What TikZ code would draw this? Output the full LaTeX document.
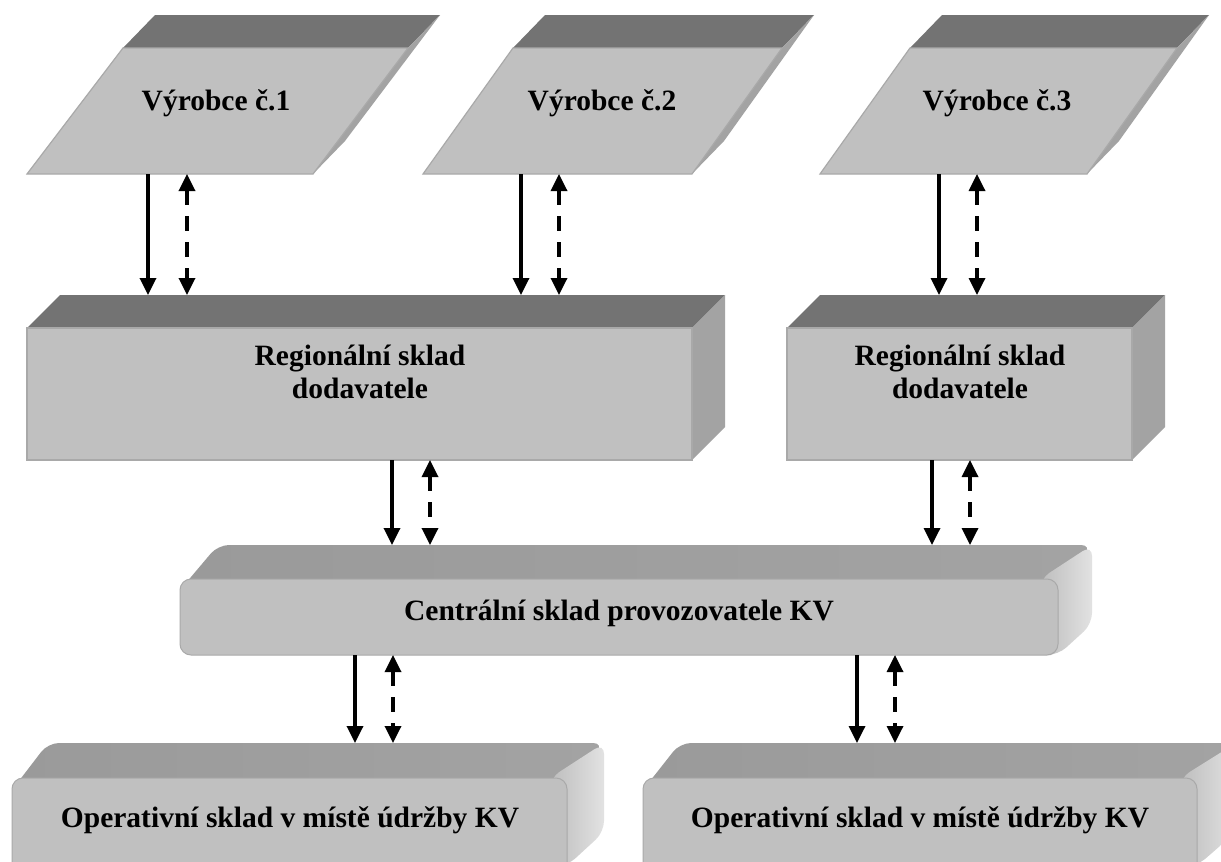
\documentclass[tikz,border=0pt]{standalone}
\usepackage{fontspec}
\setmainfont{Liberation Serif}
\usetikzlibrary{arrows.meta}

\definecolor{facefront}{HTML}{C0C0C0}
\definecolor{facetop}{HTML}{737373}
\definecolor{faceside}{HTML}{A3A3A3}
\definecolor{edgegray}{HTML}{A9A9A9}
\definecolor{softtop}{HTML}{9A9A9A}
\definecolor{softtoplight}{HTML}{B8B8B8}
\definecolor{softsidedark}{HTML}{BDBDBD}
\definecolor{softsidelight}{HTML}{E2E2E2}

\tikzset{
  frontface/.style={fill=facefront, draw=edgegray, line width=1.2pt},
  topface/.style={fill=facetop},
  sideface/.style={fill=faceside},
  softfront/.style={fill=facefront, draw=edgegray, line width=1pt, rounded corners=11pt},
  softtopface/.style={left color=softtop, right color=softtop!70!softtoplight, rounded corners=11pt},
  softsideface/.style={left color=softsidedark, right color=softsidelight, rounded corners=11pt},
  boxlabel/.style={font=\bfseries\fontsize{29.5}{33}\selectfont, align=center, anchor=base, inner sep=0pt},
  flow/.style={line width=3.4pt, -{Triangle[width=16pt,length=17pt]}},
  info/.style={line width=3.4pt, dash pattern=on 15pt off 11pt,
    {Triangle[width=16pt,length=17pt]}-{Triangle[width=16pt,length=17pt]}},
}

\begin{document}
\begin{tikzpicture}[x=1pt, y=-1pt]
\useasboundingbox (0,0) rectangle (1221,862);
\fill[white] (0,0) rectangle (1221,862);
\clip (0,0) rectangle (1221,862);

% --- producers (slanted prisms) ---
\fill[topface]  (123,48) -- (155,15) -- (440,15) -- (408,48) -- cycle;
\fill[sideface] (408,48) -- (440,15) -- (345,141) -- (313,174) -- cycle;
\filldraw[frontface] (123,48) -- (408,48) -- (313,174) -- (27,174) -- cycle;
\node[boxlabel] (v1) at (216,110) {Výrobce č.1};

\fill[topface]  (513,48) -- (545,15) -- (814,15) -- (782,48) -- cycle;
\fill[sideface] (782,48) -- (814,15) -- (724,141) -- (692,174) -- cycle;
\filldraw[frontface] (513,48) -- (782,48) -- (692,174) -- (423,174) -- cycle;
\node[boxlabel] (v2) at (602,110) {Výrobce č.2};

\fill[topface]  (910,48) -- (942,15) -- (1209,15) -- (1177,48) -- cycle;
\fill[sideface] (1177,48) -- (1209,15) -- (1119,141) -- (1087,174) -- cycle;
\filldraw[frontface] (910,48) -- (1177,48) -- (1087,174) -- (820,174) -- cycle;
\node[boxlabel] (v3) at (997,110) {Výrobce č.3};

% --- regional warehouses (blocks) ---
\fill[topface]  (27,328) -- (60,295) -- (725,295) -- (692,328) -- cycle;
\fill[sideface] (692,328) -- (725,295) -- (725,427) -- (692,460) -- cycle;
\filldraw[frontface] (27,328) rectangle (692,460);
\node[boxlabel] (r1) at (360,398) {Regionální sklad\\dodavatele};

\fill[topface]  (787,328) -- (820,295) -- (1165,295) -- (1132,328) -- cycle;
\fill[sideface] (1132,328) -- (1165,295) -- (1165,427) -- (1132,460) -- cycle;
\filldraw[frontface] (787,328) rectangle (1132,460);
\node[boxlabel] (r2) at (960,398) {Regionální sklad\\dodavatele};

% --- central warehouse (rounded block) ---
\shade[softtopface]  (180,590) -- (218,545) -- (1092,545) -- (1058,590) -- cycle;
\shade[softsideface] (1040,579) -- (1092,545) -- (1092,624) -- (1058,655) -- (1040,655) -- cycle;
\filldraw[softfront] (180,579) rectangle (1058,655);
\node[boxlabel] (c) at (619,620) {Centrální sklad provozovatele KV};

% --- operational warehouses (rounded blocks) ---
\shade[softtopface]  (12,790) -- (48,743) -- (604,743) -- (567,790) -- cycle;
\shade[softsideface] (550,778) -- (604,743) -- (604,832) -- (567,866) -- (550,866) -- cycle;
\filldraw[softfront] (12,778) rectangle (567,880);
\node[boxlabel] (o1) at (290,827) {Operativní sklad v místě údržby KV};

\shade[softtopface]  (643,790) -- (680,743) -- (1236,743) -- (1197,790) -- cycle;
\shade[softsideface] (1180,778) -- (1236,743) -- (1236,832) -- (1197,866) -- (1180,866) -- cycle;
\filldraw[softfront] (643,778) rectangle (1197,880);
\node[boxlabel] (o2) at (920,827) {Operativní sklad v místě údržby KV};

% --- connector ends ---
\coordinate (v1-a) at (148,174); \coordinate (r1-a) at (148,295);
\coordinate (v1-b) at (187,174); \coordinate (r1-b) at (187,295);
\coordinate (v2-a) at (521,174); \coordinate (r1-c) at (521,295);
\coordinate (v2-b) at (559,174); \coordinate (r1-d) at (559,295);
\coordinate (v3-a) at (939,174); \coordinate (r2-a) at (939,295);
\coordinate (v3-b) at (977,174); \coordinate (r2-b) at (977,295);

\coordinate (r1-out) at (392,460); \coordinate (c-a) at (392,545);
\coordinate (r1-in)  at (430,460); \coordinate (c-b) at (430,545);
\coordinate (r2-out) at (932,460); \coordinate (c-c) at (932,545);
\coordinate (r2-in)  at (970,460); \coordinate (c-d) at (970,545);

\coordinate (c-out1) at (355,655); \coordinate (o1-a) at (355,743);
\coordinate (c-in1)  at (393,655); \coordinate (o1-b) at (393,743);
\coordinate (c-out2) at (857,655); \coordinate (o2-a) at (857,743);
\coordinate (c-in2)  at (895,655); \coordinate (o2-b) at (895,743);

% --- material flow (solid) and information flow (dashed) ---
\draw[flow] (v1-a) -- (r1-a);  \draw[info] (v1-b) -- (r1-b);
\draw[flow] (v2-a) -- (r1-c);  \draw[info] (v2-b) -- (r1-d);
\draw[flow] (v3-a) -- (r2-a);  \draw[info] (v3-b) -- (r2-b);
\draw[flow] (r1-out) -- (c-a); \draw[info] (r1-in) -- (c-b);
\draw[flow] (r2-out) -- (c-c); \draw[info] (r2-in) -- (c-d);
\draw[flow] (c-out1) -- (o1-a); \draw[info] (c-in1) -- (o1-b);
\draw[flow] (c-out2) -- (o2-a); \draw[info] (c-in2) -- (o2-b);
\end{tikzpicture}
\end{document}
